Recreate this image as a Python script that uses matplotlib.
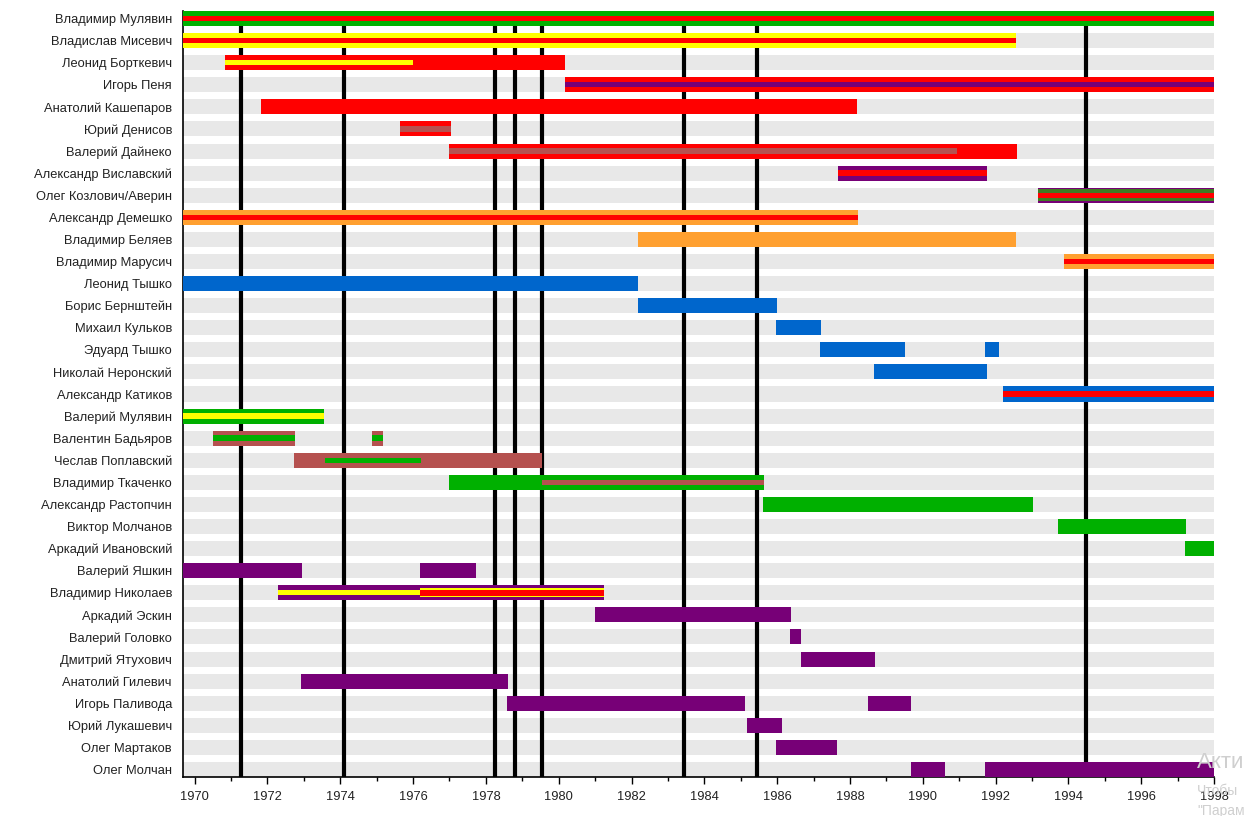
import matplotlib
matplotlib.use("Agg")
import matplotlib.pyplot as plt
from matplotlib.ticker import MultipleLocator

plt.rcParams['font.family'] = ['Liberation Sans', 'DejaVu Sans']

# palette
green = '#00b000'
red = '#ff0000'
yellow = '#ffff00'
orange = '#ffa030'
blue = '#0066cc'
purple = '#770077'
brown = '#b5514f'
olive = '#3f7a22'

members = [
    'Владимир Мулявин', 'Владислав Мисевич', 'Леонид Борткевич', 'Игорь Пеня',
    'Анатолий Кашепаров', 'Юрий Денисов', 'Валерий Дайнеко', 'Александр Виславский',
    'Олег Козлович/Аверин', 'Александр Демешко', 'Владимир Беляев', 'Владимир Марусич',
    'Леонид Тышко', 'Борис Бернштейн', 'Михаил Кульков', 'Эдуард Тышко',
    'Николай Неронский', 'Александр Катиков', 'Валерий Мулявин', 'Валентин Бадьяров',
    'Чеслав Поплавский', 'Владимир Ткаченко', 'Александр Растопчин', 'Виктор Молчанов',
    'Аркадий Ивановский', 'Валерий Яшкин', 'Владимир Николаев', 'Аркадий Эскин',
    'Валерий Головко', 'Дмитрий Ятухович', 'Анатолий Гилевич', 'Игорь Паливода',
    'Юрий Лукашевич', 'Олег Мартаков', 'Олег Молчан',
]

# main periods: (member, start, end, colour)
periods = [
    ('Владимир Мулявин', 1969.0, 1998.0, green),
    ('Владислав Мисевич', 1969.0, 1992.57, yellow),
    ('Леонид Борткевич', 1970.82, 1980.18, red),
    ('Игорь Пеня', 1980.16, 1998.0, red),
    ('Анатолий Кашепаров', 1971.82, 1988.2, red),
    ('Юрий Денисов', 1975.65, 1977.04, red),
    ('Валерий Дайнеко', 1976.98, 1992.6, red),
    ('Александр Виславский', 1987.66, 1991.77, purple),
    ('Олег Козлович/Аверин', 1993.16, 1998.0, purple),
    ('Александр Демешко', 1969.0, 1988.23, orange),
    ('Владимир Беляев', 1982.17, 1992.57, orange),
    ('Владимир Марусич', 1993.88, 1998.0, orange),
    ('Леонид Тышко', 1969.0, 1982.19, blue),
    ('Борис Бернштейн', 1982.17, 1986.0, blue),
    ('Михаил Кульков', 1985.97, 1987.21, blue),
    ('Эдуард Тышко', 1987.17, 1989.51, blue),
    ('Эдуард Тышко', 1991.71, 1992.1, blue),
    ('Николай Неронский', 1988.66, 1991.77, blue),
    ('Александр Катиков', 1992.2, 1998.0, blue),
    ('Валерий Мулявин', 1969.0, 1973.54, green),
    ('Валентин Бадьяров', 1970.5, 1972.75, brown),
    ('Валентин Бадьяров', 1974.88, 1975.18, brown),
    ('Чеслав Поплавский', 1972.72, 1979.54, brown),
    ('Владимир Ткаченко', 1976.98, 1985.64, green),
    ('Александр Растопчин', 1985.6, 1993.04, green),
    ('Виктор Молчанов', 1993.71, 1997.24, green),
    ('Аркадий Ивановский', 1997.21, 1998.0, green),
    ('Валерий Яшкин', 1969.0, 1972.96, purple),
    ('Валерий Яшкин', 1976.19, 1977.72, purple),
    ('Владимир Николаев', 1972.28, 1981.24, purple),
    ('Аркадий Эскин', 1980.99, 1986.38, purple),
    ('Валерий Головко', 1986.36, 1986.66, purple),
    ('Дмитрий Ятухович', 1986.66, 1988.68, purple),
    ('Анатолий Гилевич', 1972.93, 1978.62, purple),
    ('Игорь Паливода', 1978.59, 1985.11, purple),
    ('Игорь Паливода', 1988.49, 1989.68, purple),
    ('Юрий Лукашевич', 1985.16, 1986.12, purple),
    ('Олег Мартаков', 1985.98, 1987.65, purple),
    ('Олег Молчан', 1989.69, 1990.61, purple),
    ('Олег Молчан', 1991.71, 1998.0, purple),
]

# inner stripes: (member, start, end, colour, share of bar height)
stripes = [
    ('Владимир Мулявин', 1969.0, 1998.0, red, 0.36),
    ('Владислав Мисевич', 1969.0, 1992.57, red, 0.36),
    ('Леонид Борткевич', 1970.82, 1976.0, yellow, 0.36),
    ('Игорь Пеня', 1980.16, 1998.0, purple, 0.36),
    ('Юрий Денисов', 1975.65, 1977.04, brown, 0.36),
    ('Валерий Дайнеко', 1976.98, 1990.95, brown, 0.36),
    ('Александр Виславский', 1987.66, 1991.77, red, 0.36),
    ('Олег Козлович/Аверин', 1993.16, 1998.0, olive, 0.8),
    ('Олег Козлович/Аверин', 1993.16, 1998.0, red, 0.34),
    ('Александр Демешко', 1969.0, 1988.23, red, 0.36),
    ('Владимир Марусич', 1993.88, 1998.0, red, 0.36),
    ('Александр Катиков', 1992.2, 1998.0, red, 0.36),
    ('Валерий Мулявин', 1969.0, 1973.54, yellow, 0.36),
    ('Валентин Бадьяров', 1970.5, 1972.75, green, 0.36),
    ('Валентин Бадьяров', 1974.88, 1975.18, green, 0.36),
    ('Чеслав Поплавский', 1973.58, 1976.22, green, 0.36),
    ('Владимир Ткаченко', 1979.55, 1985.64, brown, 0.36),
    ('Владимир Николаев', 1972.28, 1976.19, yellow, 0.36),
    ('Владимир Николаев', 1976.19, 1981.24, yellow, 0.6),
    ('Владимир Николаев', 1976.19, 1981.24, red, 0.4),
]

album_dates = [1971.28, 1974.11, 1978.26, 1978.81, 1979.55, 1983.45, 1985.46, 1994.49]

x_start, x_end = 1969.68, 1998.0
bar_h = 0.68

fig = plt.figure(figsize=(12.53, 8.16), dpi=100)
ax = fig.add_axes([183 / 1253, 1 - 777 / 816, (1214 - 183) / 1253, (777 - 11) / 816])

row = {name: i for i, name in enumerate(members)}

for i in range(len(members)):
    ax.barh(i, x_end - x_start, left=x_start, height=bar_h, color='#e8e8e8', zorder=1)

for x in album_dates:
    ax.axvline(x, color='black', lw=3, zorder=2)

for name, s, e, c in periods:
    ax.barh(row[name], e - s, left=s, height=bar_h, color=c, zorder=3)

for name, s, e, c, k in stripes:
    ax.barh(row[name], e - s, left=s, height=bar_h * k, color=c, zorder=4)

ax.set_xlim(x_start, x_end)
ax.set_ylim(len(members) - 1 + bar_h / 2, -bar_h / 2)

ax.set_yticks(range(len(members)))
ax.set_yticklabels(members, fontsize=9.3, color='#222222')
ax.tick_params(axis='y', length=0, pad=8)

ax.xaxis.set_major_locator(MultipleLocator(2))
ax.xaxis.set_minor_locator(MultipleLocator(1))
ax.tick_params(axis='x', which='major', length=5, width=1, labelsize=9.3, pad=5,
               labelcolor='#222222')
ax.tick_params(axis='x', which='minor', length=3, width=1)

for side in ['top', 'right']:
    ax.spines[side].set_visible(False)
ax.spines['left'].set_linewidth(1.2)
ax.spines['bottom'].set_linewidth(1.2)

# screen watermark visible in the corner
fig.text(1197 / 1253, 1 - 762 / 816, 'Акти', fontsize=16, color='#cfcfcf', va='center')
fig.text(1197 / 1253, 1 - 791 / 816, 'Чтобы', fontsize=10, color='#cfcfcf', va='center')
fig.text(1197 / 1253, 1 - 811 / 816, '"Парам', fontsize=10, color='#cfcfcf', va='center')

fig.savefig('out.png', dpi=100)
